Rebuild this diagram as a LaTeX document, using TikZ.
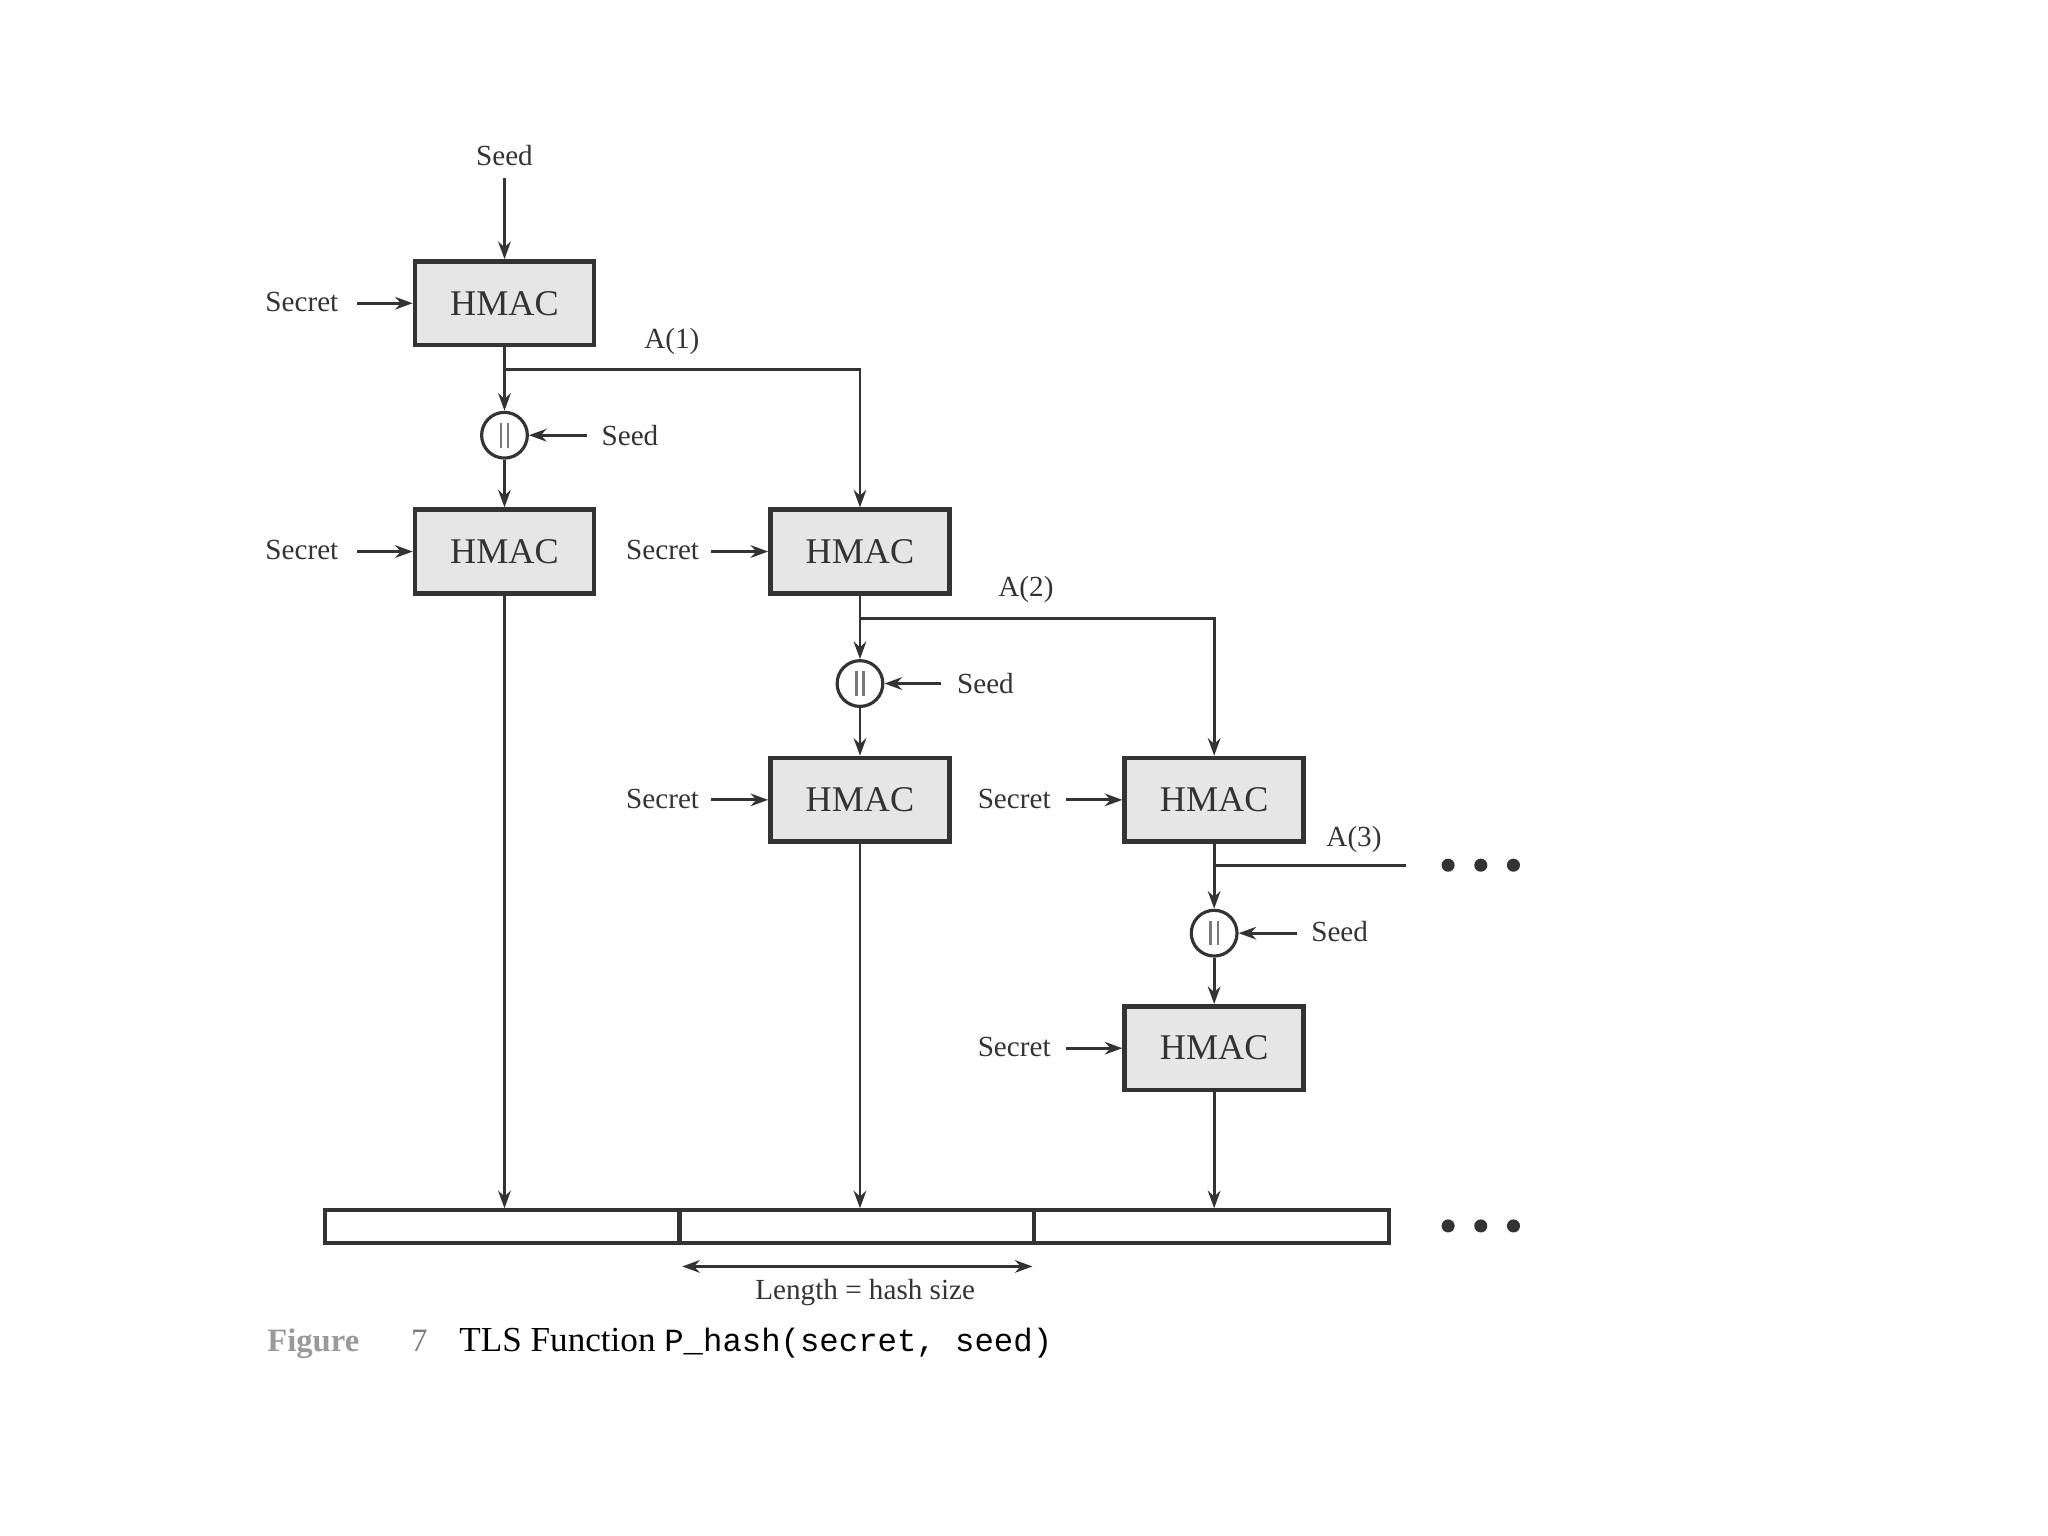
\documentclass[tikz,border=0pt]{standalone}
\usepackage{fontspec}
\setmainfont{Liberation Serif}
\setmonofont{Liberation Mono}
\usetikzlibrary{arrows.meta}
\definecolor{ink}{HTML}{333333}
\definecolor{boxfill}{HTML}{E6E6E6}
\definecolor{capgray}{HTML}{9A9A9A}
\newcommand{\catbar}{\textcolor{ink!65}{\rule{0.7pt}{7pt}\hspace{1.4pt}\rule{0.7pt}{7pt}}}
\begin{document}
\begin{tikzpicture}[x=0.01307cm,y=-0.01307cm,
  hmac/.style={draw=ink,line width=1.3pt,fill=boxfill,minimum width=137*0.01307cm,minimum height=64*0.01307cm,inner sep=0pt,font=\fontsize{10.3}{12}\selectfont,text=ink},
  lbl/.style={font=\fontsize{8.3}{10}\selectfont,text=ink,inner sep=0pt},
  cat/.style={circle,draw=ink,line width=0.9pt,minimum size=35*0.01307cm,inner sep=0pt},
  ln/.style={draw=ink,line width=0.8pt},
  arr/.style={ln,-{Stealth[length=5pt,width=3.6pt]}},
  dot/.style={circle,fill=ink,minimum size=10*0.01307cm,inner sep=0pt},
  seg/.style={draw=ink,line width=1.1pt,minimum width=271*0.01307cm,minimum height=25*0.01307cm,inner sep=0pt,fill=white}]
\useasboundingbox (0,0) rectangle (1567,1175);
% boxes
\node[hmac] (h1) at (386,232) {HMAC};
\node[hmac] (h2) at (386,422) {HMAC};
\node[hmac] (h3) at (658,422) {HMAC};
\node[hmac] (h4) at (658,612) {HMAC};
\node[hmac] (h5) at (929,612) {HMAC};
\node[hmac] (h6) at (929,802) {HMAC};
% concat circles
\node[cat] (c1) at (386,333) {\catbar};
\node[cat] (c2) at (658,523) {\catbar};
\node[cat] (c3) at (929,714) {\catbar};
% labels
\node[lbl] (seed0) at (386,119) {Seed};
\node[lbl] (s1) at (231,231) {Secret};
\node[lbl] (s2) at (231,421) {Secret};
\node[lbl] (s3) at (507,421) {Secret};
\node[lbl] (s4) at (507,611) {Secret};
\node[lbl] (s5) at (776,611) {Secret};
\node[lbl] (s6) at (776,801) {Secret};
\node[lbl] (sd1) at (482,333) {Seed};
\node[lbl] (sd2) at (754,523) {Seed};
\node[lbl] (sd3) at (1025,713) {Seed};
\node[lbl] (a1) at (514,261) {A(1)};
\node[lbl] (a2) at (785,451) {A(2)};
\node[lbl] (a3) at (1036,642) {A(3)};
% output bar
\node[seg] (o1) at (384,938.5) {};
\node[seg] (o2) at (655.5,938.5) {};
\node[seg] (o3) at (927,938.5) {};
% dots
\node[dot] (d1) at (1108,662) {};
\node[dot] (d2) at (1133,662) {};
\node[dot] (d3) at (1158,662) {};
\node[dot] (e1) at (1108,938) {};
\node[dot] (e2) at (1133,938) {};
\node[dot] (e3) at (1158,938) {};
% coordinates
\coordinate (seedtop) at (386,136);
\coordinate (b1) at (386,283);
\coordinate (b2) at (658,473);
\coordinate (b3) at (929,662);
\coordinate (a3end) at (1076,662);
\coordinate (sa1) at (273,232); \coordinate (sa2) at (273,422);
\coordinate (sa3) at (544,422); \coordinate (sa4) at (544,612);
\coordinate (sa5) at (816,612); \coordinate (sa6) at (816,802);
\coordinate (sd1s) at (449,333); \coordinate (sd2s) at (720,523); \coordinate (sd3s) at (992,714);
\coordinate (lenL) at (522,969); \coordinate (lenR) at (790,969);
% connectors
\draw[arr] (seedtop) -- (h1.north);
\foreach \i in {1,...,6} {\draw[arr] (sa\i) -- (h\i.west);}
\draw[arr] (h1.south) -- (c1.north);
\draw[arr] (b1) -| (h3.north);
\draw[arr] (c1.south) -- (h2.north);
\draw[arr] (sd1s) -- (c1.east);
\draw[arr] (h3.south) -- (c2.north);
\draw[arr] (b2) -| (h5.north);
\draw[arr] (c2.south) -- (h4.north);
\draw[arr] (sd2s) -- (c2.east);
\draw[arr] (h5.south) -- (c3.north);
\draw[ln] (b3) -- (a3end);
\draw[arr] (c3.south) -- (h6.north);
\draw[arr] (sd3s) -- (c3.east);
\draw[arr] (h2.south) -- (h2.south |- o1.north);
\draw[arr] (h4.south) -- (h4.south |- o2.north);
\draw[arr] (h6.south) -- (h6.south |- o3.north);
\draw[ln,{Stealth[length=5pt,width=3.6pt]}-{Stealth[length=5pt,width=3.6pt]}] (lenL) -- (lenR);
\node[lbl] (len) at (662,989) {Length = hash size};
% caption
\node[anchor=base west,inner sep=0pt,font=\fontsize{9.3}{11}\selectfont\bfseries,text=capgray] (fig) at (204,1034) {Figure};
\node[anchor=base west,inner sep=0pt,font=\fontsize{9.3}{11}\selectfont,text=capgray!80!black] (num) at (314,1034) {7};
\node[anchor=base west,inner sep=0pt,font=\fontsize{10}{12}\selectfont,text=black] (cap) at (351,1034) {TLS Function \texttt{\fontsize{9.2}{11}\selectfont P\_hash(secret, seed)}};
\end{tikzpicture}
\end{document}
